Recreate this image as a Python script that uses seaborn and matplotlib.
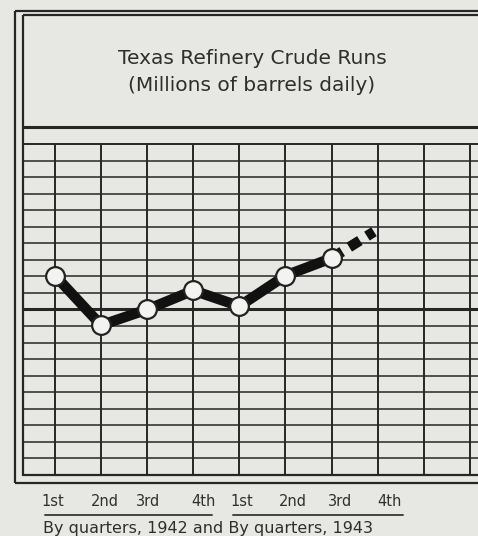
import numpy as np
import pandas as pd
import seaborn as sns
import matplotlib.pyplot as plt

# data (millions of barrels daily)
quarters = ["1st", "2nd", "3rd", "4th", "1st", "2nd", "3rd", "4th"]
runs = [1.241, 1.181, 1.200, 1.223, 1.204, 1.241, 1.262]
projected = [1.262, 1.294]  # dashed estimate, 3rd -> 4th 1943
title = "Texas Refinery Crude Runs\n(Millions of barrels daily)"
footer = "By quarters, 1942 and By quarters, 1943"

W, H = 478, 536
paper = "#e7e7e4"
ink = "#262626"

sns.set_style("white")
plt.rcParams["font.family"] = ["DejaVu Sans"]

fig = plt.figure(figsize=(W / 100, H / 100), dpi=100, facecolor=paper)

# overlay in pixel coords for the printed frame
frame = fig.add_axes([0, 0, 1, 1], zorder=0)
frame.set_xlim(0, W)
frame.set_ylim(H, 0)
frame.axis("off")
frame.set_facecolor(paper)

def hl(y, x0, x1, lw):
    frame.plot([x0, x1], [y, y], color=ink, lw=lw, solid_capstyle="butt")

def vl(x, y0, y1, lw):
    frame.plot([x, x], [y0, y1], color=ink, lw=lw, solid_capstyle="butt")

vl(15, 11, 483, 1.6)
vl(23, 15, 476, 1.6)
hl(11, 15, W, 1.6)
hl(15, 23, W, 1.6)
hl(127, 23, W, 2.2)
hl(144, 23, W, 1.4)
hl(475, 23, W, 1.6)
hl(483, 15, W, 1.6)

fig.text(252 / W, 1 - 72 / H, title, ha="center", va="center", fontsize=14.5,
         color="#2e2e2e", linespacing=1.55)

# data axes = grid area
ax = fig.add_axes([23 / W, 1 - 475 / H, (W - 23) / W, (475 - 144) / H], zorder=1)
ax.set_facecolor("none")
ax.set_xlim(-0.694, 9.176)
ax.set_ylim(1.00, 1.40)
for s in ax.spines.values():
    s.set_visible(False)
ax.set_xticks([])
ax.set_yticks([])

for xv in range(10):
    ax.axvline(xv, color=ink, lw=1.4, zorder=1)
for yv in np.arange(1.02, 1.40, 0.02):
    bold = abs(yv - 1.20) < 1e-6
    ax.axhline(yv, color=ink, lw=2.2 if bold else 1.1, zorder=1)

df = pd.DataFrame({"q": np.arange(len(runs)), "runs": runs})
proj = pd.DataFrame({"q": [len(runs) - 1, len(runs) - 0.08], "runs": projected})

sns.lineplot(data=proj, x="q", y="runs", ax=ax, color="#111111", lw=7.5,
             zorder=2).lines[-1].set_dashes([1.2, 0.8])
sns.lineplot(data=df, x="q", y="runs", ax=ax, color="#111111", lw=7.5,
             marker="o", markersize=13.5, markerfacecolor="#f3f3f1",
             markeredgecolor="#222222", markeredgewidth=1.6, zorder=3)
ax.set_xlabel("")
ax.set_ylabel("")

# quarter labels below the frame
label_x = [53, 105, 148, 203, 242, 293, 340, 390]
for lab, xp in zip(quarters, label_x):
    fig.text(xp / W, 1 - 502 / H, lab, ha="center", va="center",
             fontsize=10.5, color="#303030")
frame.plot([45, 212], [515, 515], color="#444444", lw=1.4)
frame.plot([233, 403], [515, 515], color="#444444", lw=1.4)
fig.text(43 / W, 1 - 533 / H, footer, ha="left", va="baseline",
         fontsize=11.5, color="#2e2e2e")

fig.savefig("out.png", dpi=100, facecolor=paper)
